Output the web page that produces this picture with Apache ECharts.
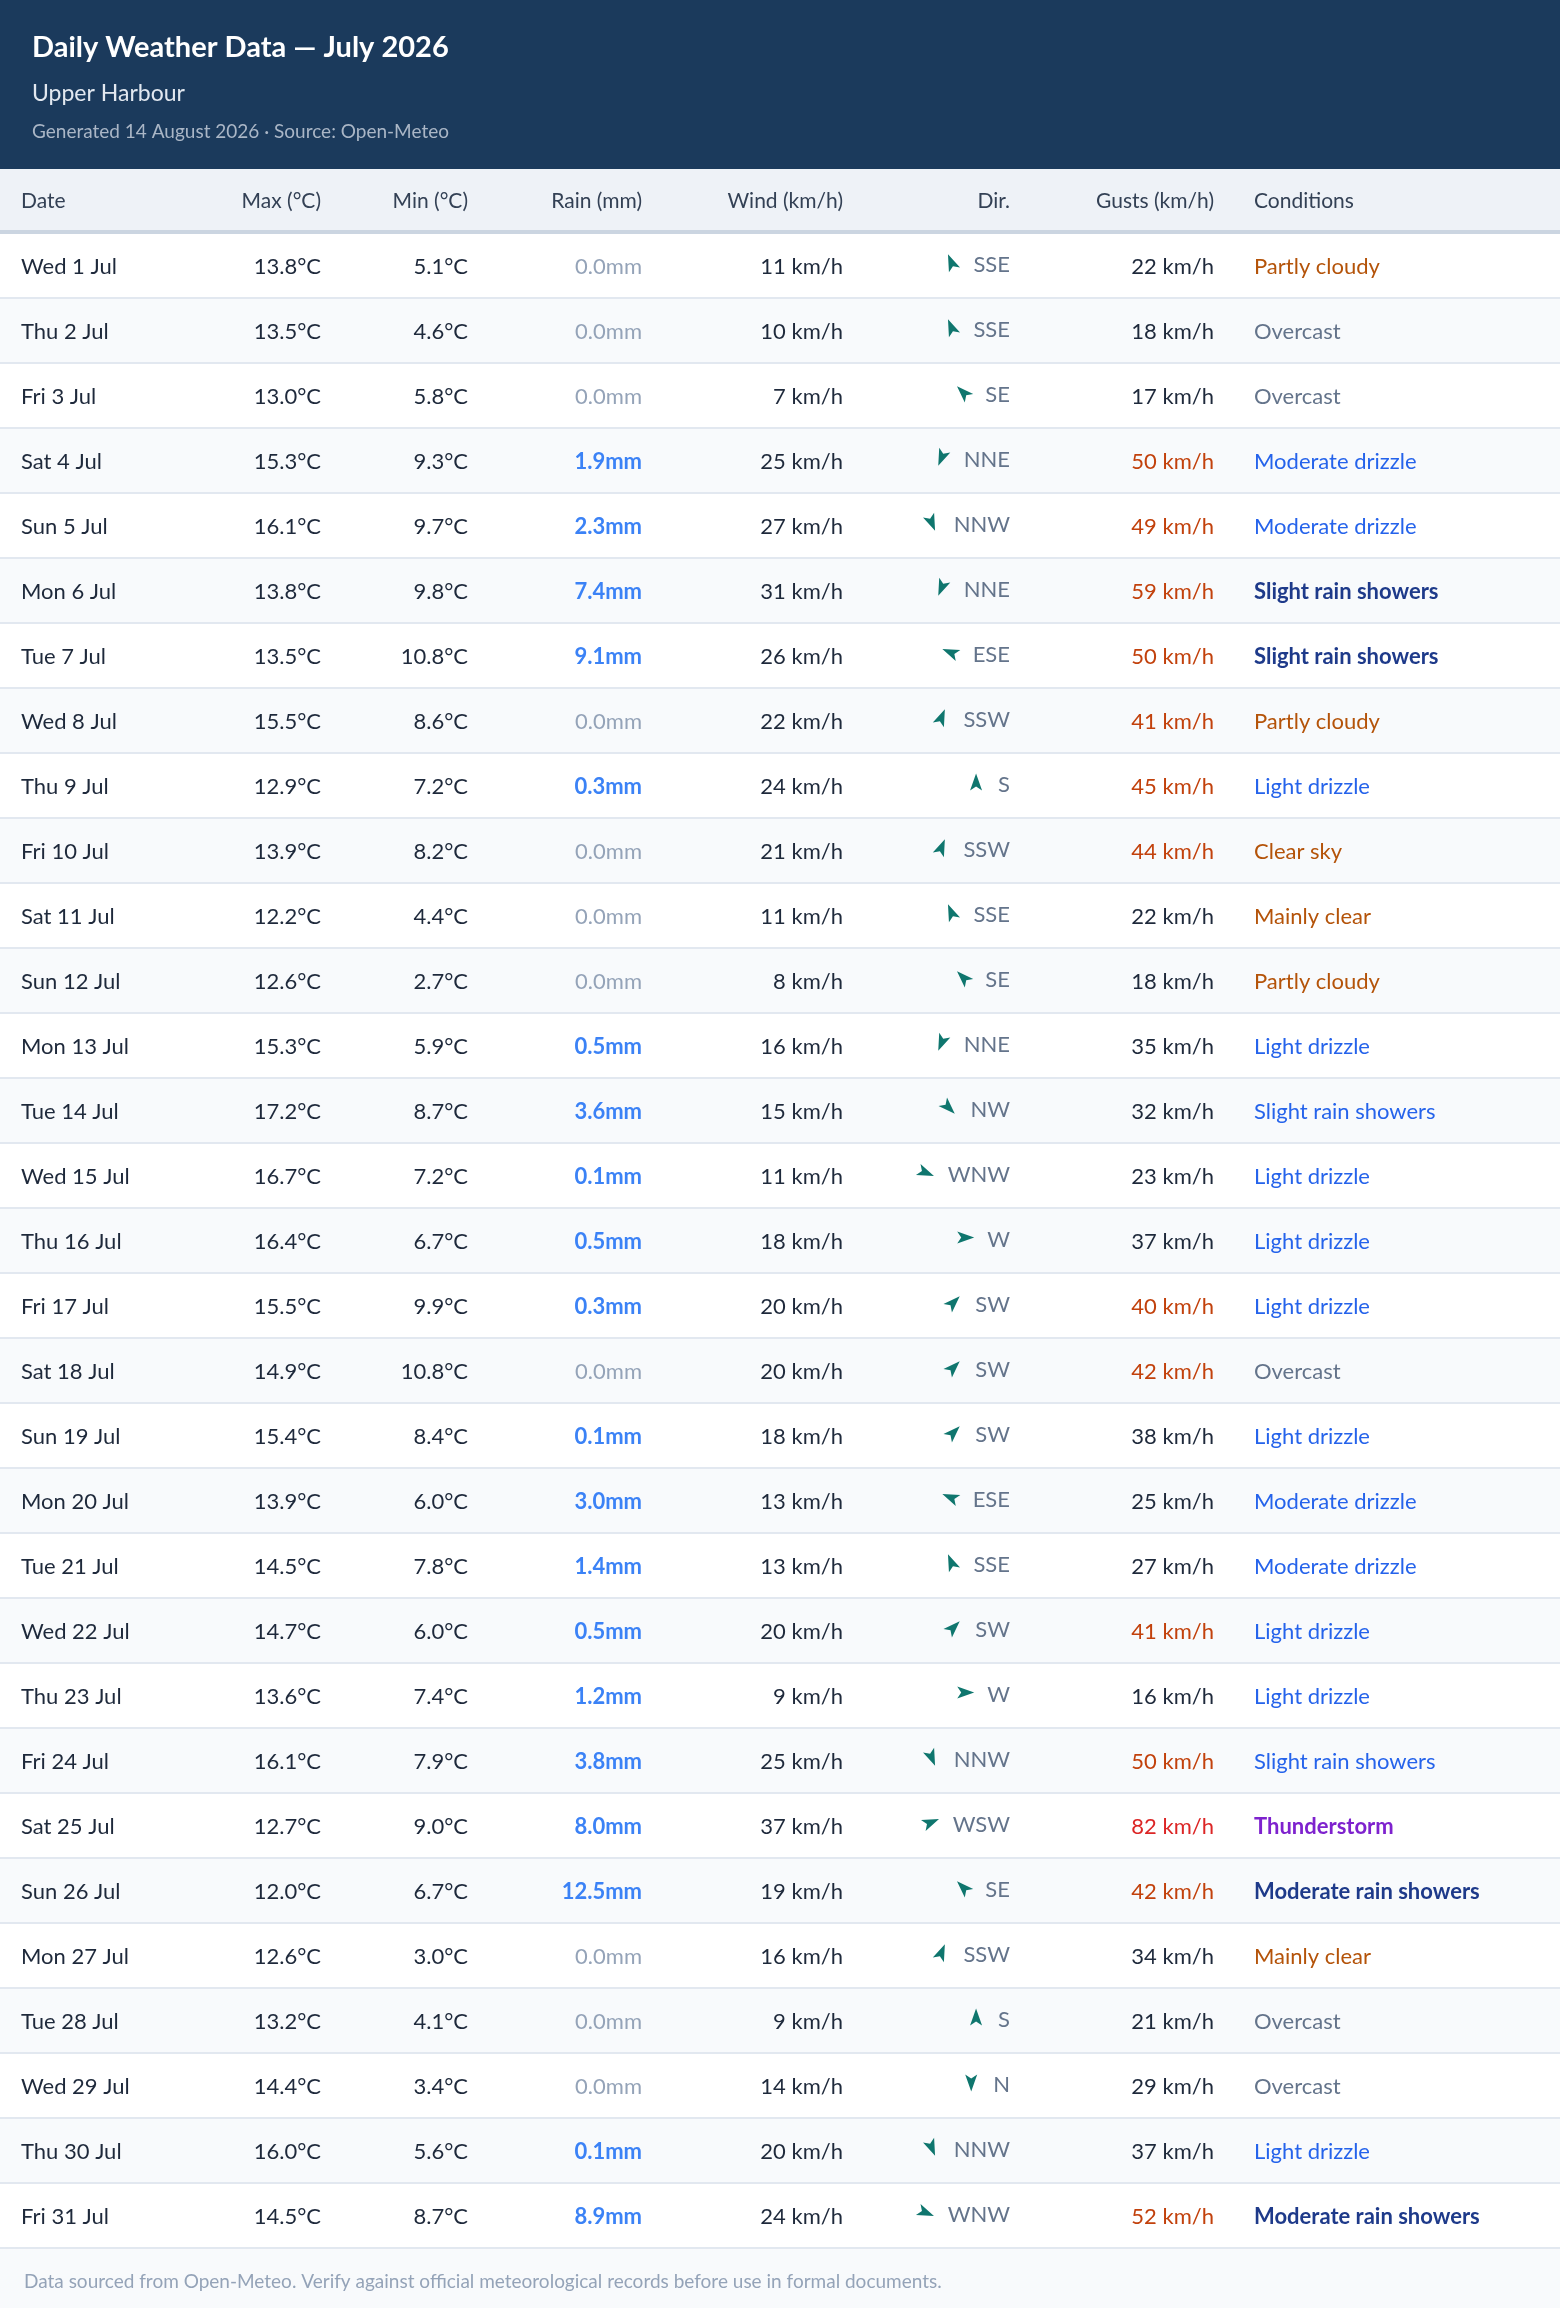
<!DOCTYPE html>
<html><head><meta charset="utf-8">
<script src="https://cdn.jsdelivr.net/npm/echarts@6/dist/echarts.min.js"></script>
<style>html,body{margin:0;padding:0;background:#fff}#c{width:1560px;height:2308px}</style>
</head><body><div id="c"></div>
<script>
const dates=["Wed 1 Jul","Thu 2 Jul","Fri 3 Jul","Sat 4 Jul","Sun 5 Jul","Mon 6 Jul","Tue 7 Jul","Wed 8 Jul","Thu 9 Jul","Fri 10 Jul","Sat 11 Jul","Sun 12 Jul","Mon 13 Jul","Tue 14 Jul","Wed 15 Jul","Thu 16 Jul","Fri 17 Jul","Sat 18 Jul","Sun 19 Jul","Mon 20 Jul","Tue 21 Jul","Wed 22 Jul","Thu 23 Jul","Fri 24 Jul","Sat 25 Jul","Sun 26 Jul","Mon 27 Jul","Tue 28 Jul","Wed 29 Jul","Thu 30 Jul","Fri 31 Jul"];
const tmax=[13.8,13.5,13.0,15.3,16.1,13.8,13.5,15.5,12.9,13.9,12.2,12.6,15.3,17.2,16.7,16.4,15.5,14.9,15.4,13.9,14.5,14.7,13.6,16.1,12.7,12.0,12.6,13.2,14.4,16.0,14.5];
const tmin=[5.1,4.6,5.8,9.3,9.7,9.8,10.8,8.6,7.2,8.2,4.4,2.7,5.9,8.7,7.2,6.7,9.9,10.8,8.4,6.0,7.8,6.0,7.4,7.9,9.0,6.7,3.0,4.1,3.4,5.6,8.7];
const rain=[0,0,0,1.9,2.3,7.4,9.1,0,0.3,0,0,0,0.5,3.6,0.1,0.5,0.3,0,0.1,3.0,1.4,0.5,1.2,3.8,8.0,12.5,0,0,0,0.1,8.9];
const wind=[11,10,7,25,27,31,26,22,24,21,11,8,16,15,11,18,20,20,18,13,13,20,9,25,37,19,16,9,14,20,24];
const dirs=["SSE","SSE","SE","NNE","NNW","NNE","ESE","SSW","S","SSW","SSE","SE","NNE","NW","WNW","W","SW","SW","SW","ESE","SSE","SW","W","NNW","WSW","SE","SSW","S","N","NNW","WNW"];
const gusts=[22,18,17,50,49,59,50,41,45,44,22,18,35,32,23,37,40,42,38,25,27,41,16,50,82,42,34,21,29,37,52];
const conds=["Partly cloudy","Overcast","Overcast","Moderate drizzle","Moderate drizzle","Slight rain showers","Slight rain showers","Partly cloudy","Light drizzle","Clear sky","Mainly clear","Partly cloudy","Light drizzle","Slight rain showers","Light drizzle","Light drizzle","Light drizzle","Overcast","Light drizzle","Moderate drizzle","Moderate drizzle","Light drizzle","Light drizzle","Slight rain showers","Thunderstorm","Moderate rain showers","Mainly clear","Overcast","Overcast","Light drizzle","Moderate rain showers"];
const headers=["Date","Max (°C)","Min (°C)","Rain (mm)","Wind (km/h)","Dir.","Gusts (km/h)","Conditions"];

const FONT='Lato, "Noto Sans", sans-serif';
const FS=22;
const compass=["N","NNE","NE","ENE","E","ESE","SE","SSE","S","SSW","SW","WSW","W","WNW","NW","NNW"];
const cv=document.createElement('canvas').getContext('2d');
function tw(t,w){cv.font=(w||'normal')+' '+FS+'px '+FONT;return cv.measureText(t).width;}
function condStyle(c,r){
  if(c==='Thunderstorm')return['#7e22ce','bold'];
  if(/Clear|clear|cloudy/.test(c))return['#b45309','normal'];
  if(c==='Overcast')return['#64748b','normal'];
  if(/showers/.test(c)&&r>=5)return['#1e3a8a','bold'];
  return['#2563eb','normal'];
}
const colX={date:21,max:321,min:468,rain:642,wind:843,dir:1010,gust:1214,cond:1254};
const idx=dates.map((d,i)=>[i]);
function rowY(api){return api.coord([0,api.value(0)])[1];}
function txt(x,y,t,align,color,weight){return{type:'text',style:{x:x,y:y,text:t,align:align,verticalAlign:'middle',fill:color,font:(weight||'normal')+' '+FS+'px '+FONT}};}
function col(name,fn){return{type:'custom',name:name,data:idx,renderItem:function(p,api){return fn(api.value(0),rowY(api),api);},z:5};}
const chart=echarts.init(document.getElementById('c'),null,{renderer:'canvas'});
const ROWH=65,TOPY=234;
chart.setOption({
  animation:false,
  grid:{left:0,right:0,top:TOPY,height:ROWH*dates.length},
  xAxis:{type:'value',min:0,max:1560,show:false},
  yAxis:{type:'category',data:dates,inverse:true,show:false},
  graphic:[
    {type:'rect',shape:{x:0,y:0,width:1560,height:169},style:{fill:'#1b3a5c'}},
    {type:'text',style:{x:32,y:48,text:'Daily Weather Data — July 2026',font:'bold 29px '+FONT,fill:'#fff',verticalAlign:'middle'}},
    {type:'text',style:{x:32,y:94,text:'Upper Harbour',font:'normal 23px '+FONT,fill:'#e2e8f0',verticalAlign:'middle'}},
    {type:'text',style:{x:32,y:132,text:'Generated 14 August 2026 · Source: Open-Meteo',font:'normal 19px '+FONT,fill:'#aab6c6',verticalAlign:'middle'}},
    {type:'rect',shape:{x:0,y:169,width:1560,height:62},style:{fill:'#eef2f7'}},
    {type:'rect',shape:{x:0,y:230,width:1560,height:4},style:{fill:'#cbd5e1'}},
    {type:'rect',shape:{x:0,y:TOPY+ROWH*dates.length,width:1560,height:60},style:{fill:'#f8fafc'}},
    {type:'text',style:{x:24,y:2282,text:'Data sourced from Open-Meteo. Verify against official meteorological records before use in formal documents.',font:'normal 19px '+FONT,fill:'#94a3b8',verticalAlign:'middle'}}
  ].concat(headers.map((h,i)=>{
    const xs=[colX.date,colX.max,colX.min,colX.rain,colX.wind,colX.dir,colX.gust,colX.cond];
    const al=(i===0||i===7)?'left':'right';
    return{type:'text',style:{x:xs[i],y:201,text:h,align:al,verticalAlign:'middle',font:'normal 21px '+FONT,fill:'#334155'}};
  })),
  series:[
    {type:'custom',name:'rows',data:idx,z:1,renderItem:function(p,api){
      const i=api.value(0),y=rowY(api);
      return{type:'group',children:[
        {type:'rect',shape:{x:0,y:y-ROWH/2,width:1560,height:ROWH},style:{fill:i%2?'#f8fafc':'#ffffff'}},
        {type:'rect',shape:{x:0,y:y+ROWH/2-2,width:1560,height:2},style:{fill:'#e2e8f0'}}]};
    }},
    col('date',(i,y)=>txt(colX.date,y,dates[i],'left','#1e293b')),
    col('max',(i,y)=>txt(colX.max,y,tmax[i].toFixed(1)+'°C','right','#1e293b')),
    col('min',(i,y)=>txt(colX.min,y,tmin[i].toFixed(1)+'°C','right','#1e293b')),
    col('rain',(i,y)=>rain[i]>0?txt(colX.rain,y,rain[i].toFixed(1)+'mm','right','#3b82f6','bold'):txt(colX.rain,y,rain[i].toFixed(1)+'mm','right','#94a3b8')),
    col('wind',(i,y)=>txt(colX.wind,y,wind[i]+' km/h','right','#1e293b')),
    col('dir',(i,y)=>{
      const d=dirs[i],deg=compass.indexOf(d)*22.5,w=tw(d);
      const ax=colX.dir-w-22;
      return{type:'group',children:[
        txt(colX.dir,y-2,d,'right','#64748b'),
        {type:'path',x:ax,y:y-4,rotation:-(deg+180)*Math.PI/180,
         shape:{pathData:'M0,-9 L6,8 L0,4 L-6,8 Z',x:-6,y:-9,width:12,height:17},style:{fill:'#0f766e'}}]};
    }),
    col('gust',(i,y)=>txt(colX.gust,y,gusts[i]+' km/h','right',gusts[i]>=80?'#dc2626':gusts[i]>=40?'#c2410c':'#1e293b')),
    col('cond',(i,y)=>{const s=condStyle(conds[i],rain[i]);return txt(colX.cond,y,conds[i],'left',s[0],s[1]);})
  ]
});
</script></body></html>
